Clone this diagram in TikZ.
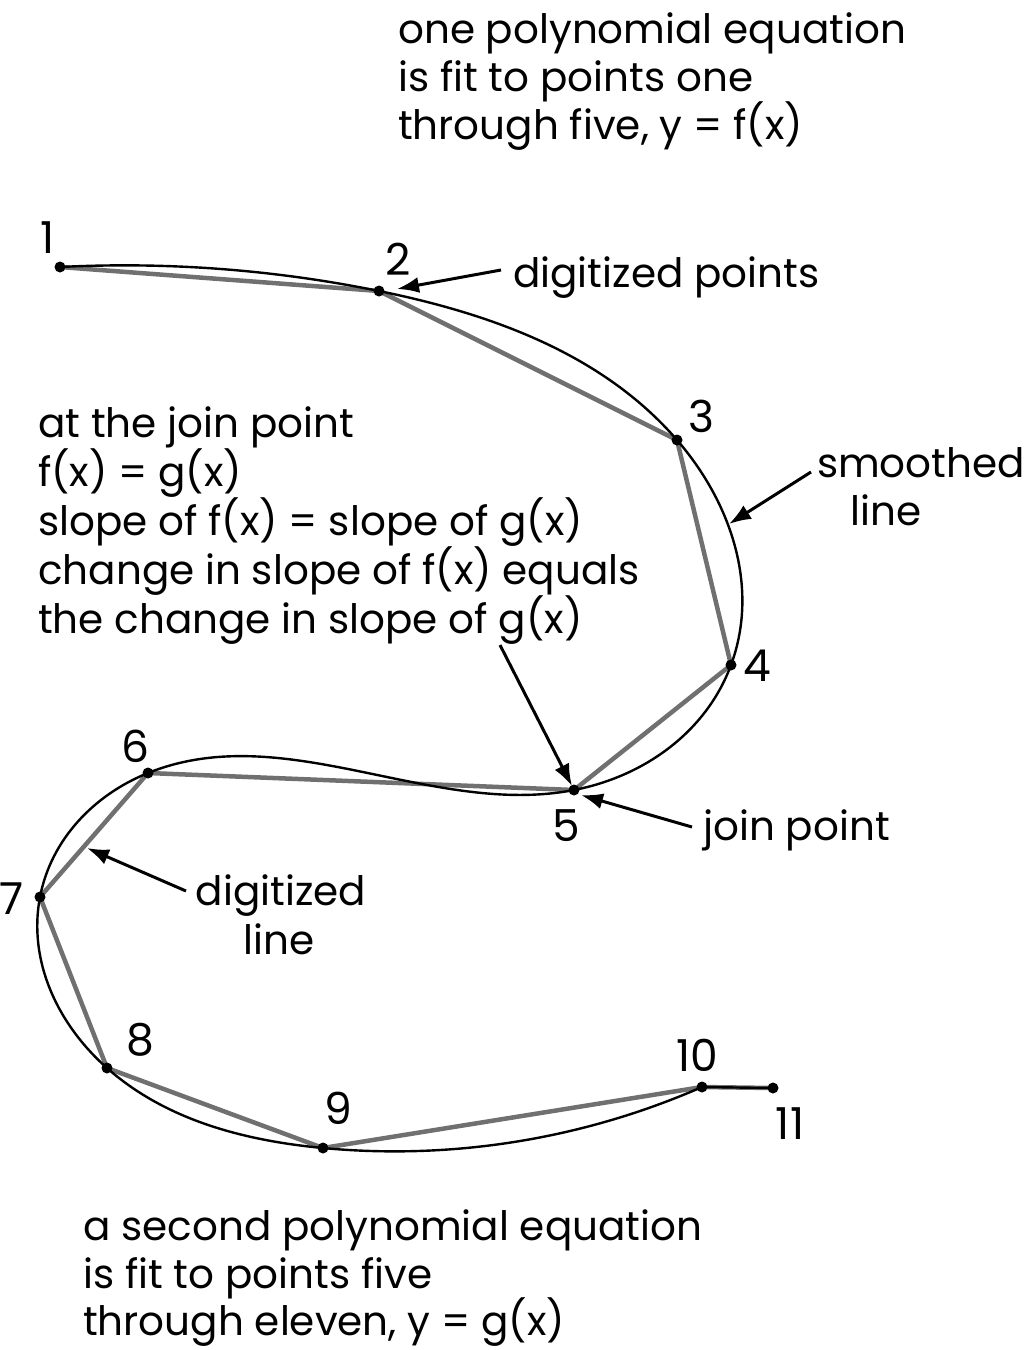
\documentclass[tikz,border=0pt]{standalone}
\usepackage{fontspec}
\setmainfont{Poppins}
\usetikzlibrary{hobby,arrows.meta}
\definecolor{digigray}{RGB}{112,112,112}
\begin{document}
\begin{tikzpicture}[x=1pt,y=-1pt,
  txt/.style={font=\fontsize{40.5}{48}\selectfont, inner sep=0pt, anchor=base west},
  txtc/.style={font=\fontsize{40.5}{48}\selectfont, inner sep=0pt, anchor=base},
  num/.style={font=\fontsize{44}{46}\selectfont, inner sep=0pt},
  ptdot/.style={circle, fill=black, inner sep=0pt, minimum size=11pt},
  digiline/.style={line width=4.5pt, draw=digigray, line join=round},
  smoothline/.style={line width=2.4pt, draw=black},
  pointer/.style={line width=3pt, -{Latex[length=22pt,width=16pt]}}]
\useasboundingbox (0,0) rectangle (1025,1350);

% digitized points
\coordinate (p1) at (60,267);
\coordinate (p2) at (379,291);
\coordinate (p3) at (677,440);
\coordinate (p4) at (731,665);
\coordinate (p5) at (574,790);
\coordinate (p6) at (148,773);
\coordinate (p7) at (40,897);
\coordinate (p8) at (107,1068);
\coordinate (p9) at (323,1148);
\coordinate (p10) at (702,1087);
\coordinate (p11) at (773,1088);

% digitized line
\draw[digiline] (p1) -- (p2) -- (p3) -- (p4) -- (p5) -- (p6) -- (p7) -- (p8) -- (p9) -- (p10) -- (p11);

% smoothed line
\draw[smoothline, use Hobby shortcut] (p1) .. (p2) .. (p3) .. (p4) .. (p5) .. (p6) .. (p7) .. (p8) .. (p9) .. (p10);
\draw[smoothline] (p10) -- (p11);

% dots
\foreach \i in {1,...,11} \node[ptdot] (d\i) at (p\i) {};

% numbers
\node[num] (n1) at (48,238) {1};
\node[num] (n2) at (398,259) {2};
\node[num] (n3) at (701,416) {3};
\node[num] (n4) at (757,666) {4};
\node[num] (n5) at (566,826) {5};
\node[num] (n6) at (135,746) {6};
\node[num] (n7) at (12,899) {7};
\node[num] (n8) at (140,1040) {8};
\node[num] (n9) at (338,1108) {9};
\node[num] (n10) at (697,1055) {10};
\node[num] (n11) at (790,1124) {11};

% top text
\node[txt] (top1) at (398,43) {one polynomial equation};
\node[txt] (top2) at (398,91) {is fit to points one};
\node[txt] (top3) at (398,139) {through five, y = f(x)};

% left text
\node[txt] (l1) at (38,437) {at the join point};
\node[txt] (l2) at (38,486) {f(x) = g(x)};
\node[txt] (l3) at (38,535) {slope of f(x) = slope of g(x)};
\node[txt] (l4) at (38,584) {change in slope of f(x) equals};
\node[txt] (l5) at (38,633) {the change in slope of g(x)};

% bottom text
\node[txt] (b1) at (83,1240) {a second polynomial equation};
\node[txt] (b2) at (83,1288) {is fit to points five};
\node[txt] (b3) at (83,1335) {through eleven, y = g(x)};

% labels
\node[txt] (dp) at (513,287) {digitized points};
\node[txtc] (sm1) at (921,477) {smoothed};
\node[txtc] (sm2) at (886,525) {line};
\node[txt] (jp) at (703,840) {join point};
\node[txtc] (dl1) at (281,905) {digitized};
\node[txtc] (dl2) at (279,954) {line};

% arrow ends
\coordinate (tDP) at (501,270);
\coordinate (hDP) at (397,289);
\coordinate (tSM) at (811,472);
\coordinate (hSM) at (729,524);
\coordinate (tJ1) at (500,645);
\coordinate (hJ1) at (572,786);
\coordinate (tJ2) at (692,827);
\coordinate (hJ2) at (581,795);
\coordinate (tDL) at (186,891);
\coordinate (hDL) at (87,848);

\draw[pointer] (tDP) -- (hDP);
\draw[pointer] (tSM) -- (hSM);
\draw[pointer] (tJ1) -- (hJ1);
\draw[pointer] (tJ2) -- (hJ2);
\draw[pointer] (tDL) -- (hDL);
\end{tikzpicture}
\end{document}
